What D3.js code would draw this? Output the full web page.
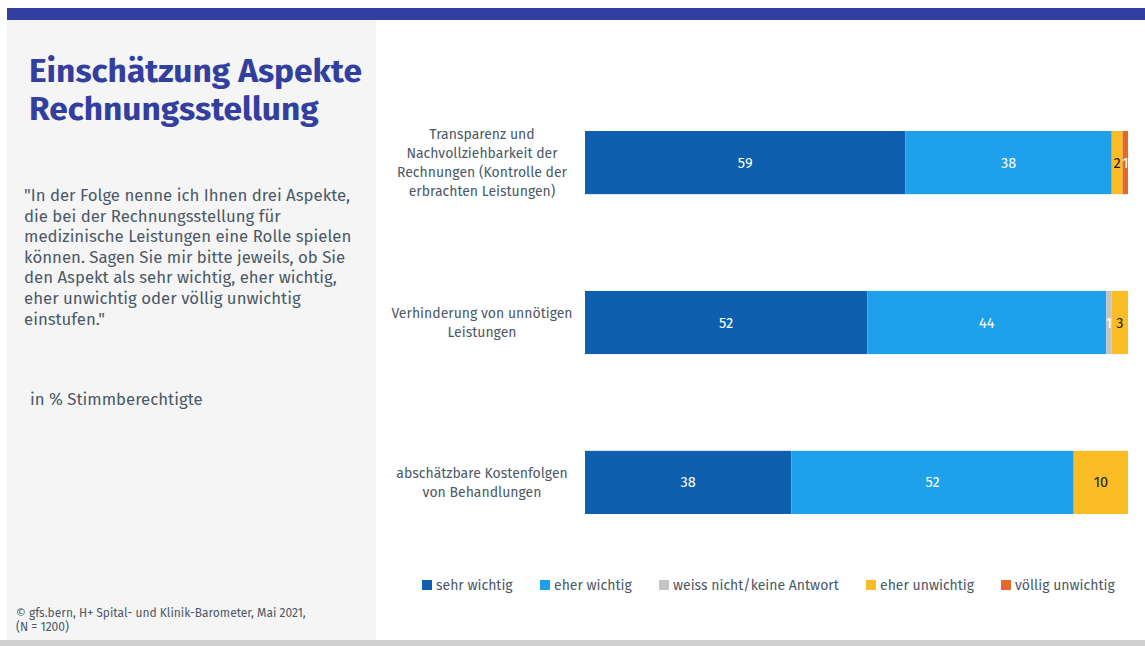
<!DOCTYPE html>
<html>
<head>
<meta charset="utf-8">
<script src="https://cdn.jsdelivr.net/npm/d3@7"></script>
<style>
  html, body { margin: 0; padding: 0; background: #ffffff; }
  svg { display: block; }
  text { font-family: "Fira Sans", "Noto Sans", "Open Sans", sans-serif; }
</style>
</head>
<body>
<svg id="chart" width="1145" height="646"></svg>
<script>
// Survey items (categories), each label split into lines
const categories = [
  ["Transparenz und", "Nachvollziehbarkeit der", "Rechnungen (Kontrolle der", "erbrachten Leistungen)"],
  ["Verhinderung von unnötigen", "Leistungen"],
  ["abschätzbare Kostenfolgen", "von Behandlungen"]
];

// Answer series, in stacking order
const seriesNames = ["sehr wichtig", "eher wichtig", "weiss nicht/keine Antwort", "eher unwichtig", "völlig unwichtig"];
const seriesColors = ["#0e5fae", "#1fa0ea", "#c4c4c4", "#fbbd26", "#e7672b"];
const labelColors = ["#ffffff", "#ffffff", "#ffffff", "#1a1a1a", "#ffffff"];

// Percent values per series (one entry per category)
const sehrWichtig = [59, 52, 38];
const eherWichtig = [38, 44, 52];
const weissNicht = [0, 1, 0];
const eherUnwichtig = [2, 3, 10];
const voelligUnwichtig = [1, 0, 0];

const values = [sehrWichtig, eherWichtig, weissNicht, eherUnwichtig, voelligUnwichtig];

const titleLines = ["Einschätzung Aspekte", "Rechnungsstellung"];
const questionLines = [
  "\"In der Folge nenne ich Ihnen drei Aspekte,",
  "die bei der Rechnungsstellung für",
  "medizinische Leistungen eine Rolle spielen",
  "können. Sagen Sie mir bitte jeweils, ob Sie",
  "den Aspekt als sehr wichtig, eher wichtig,",
  "eher unwichtig oder völlig unwichtig",
  "einstufen.\""
];
const unitNote = "in % Stimmberechtigte";
const sourceLines = ["© gfs.bern, H+ Spital- und Klinik-Barometer, Mai 2021,", "(N = 1200)"];

const svg = d3.select("#chart");
const textColor = "#4b5866";

// Page frame: top band, left panel, bottom strip
svg.append("rect").attr("x", 7).attr("y", 8).attr("width", 1138).attr("height", 12).attr("fill", "#323f9e");
svg.append("rect").attr("x", 7).attr("y", 20).attr("width", 369).attr("height", 620).attr("fill", "#f5f5f5");
svg.append("rect").attr("x", 0).attr("y", 640).attr("width", 1145).attr("height", 6).attr("fill", "#cfcfcf");

// Title
svg.append("g").selectAll("text").data(titleLines).join("text")
  .attr("x", 29).attr("y", (d, i) => 82 + i * 38)
  .attr("fill", "#323f9e").attr("font-size", 33.5).attr("font-weight", 700)
  .text(d => d);

// Question text
svg.append("g").selectAll("text").data(questionLines).join("text")
  .attr("x", 24).attr("y", (d, i) => 201 + i * 20.6)
  .attr("fill", textColor).attr("font-size", 16.8)
  .text(d => d);

svg.append("text").attr("x", 30).attr("y", 405)
  .attr("fill", textColor).attr("font-size", 16.8).text(unitNote);

svg.append("g").selectAll("text").data(sourceLines).join("text")
  .attr("x", 16).attr("y", (d, i) => 617 + i * 13.5)
  .attr("fill", textColor).attr("font-size", 12)
  .text(d => d);

// Scales
const x = d3.scaleLinear().domain([0, 100]).range([585, 1128]);
const y = d3.scaleBand().domain(d3.range(categories.length)).range([131, 514]).paddingInner(0.605).paddingOuter(0);

// Stack the series
const rows = categories.map((c, i) => {
  const r = { idx: i };
  seriesNames.forEach((s, k) => { r[s] = values[k][i]; });
  return r;
});
const stacked = d3.stack().keys(seriesNames)(rows);

const layers = svg.append("g").selectAll("g").data(stacked).join("g")
  .attr("fill", (d, k) => seriesColors[k]);

layers.selectAll("rect").data(d => d.filter(p => p[1] - p[0] > 0)).join("rect")
  .attr("x", p => x(p[0]))
  .attr("y", p => y(p.data.idx))
  .attr("width", p => x(p[1]) - x(p[0]))
  .attr("height", y.bandwidth());

// Value labels
stacked.forEach((layer, k) => {
  svg.append("g").selectAll("text").data(layer.filter(p => p[1] - p[0] > 0)).join("text")
    .attr("x", p => (x(p[0]) + x(p[1])) / 2)
    .attr("y", p => y(p.data.idx) + y.bandwidth() / 2)
    .attr("dy", "0.35em")
    .attr("text-anchor", "middle")
    .attr("font-size", 14.5)
    .attr("fill", labelColors[k])
    .text(p => p[1] - p[0]);
});

// Category labels
const catG = svg.append("g").selectAll("text").data(categories).join("text")
  .attr("text-anchor", "middle")
  .attr("fill", textColor)
  .attr("font-size", 14);
catG.each(function (lines, i) {
  const cy = y(i) + y.bandwidth() / 2;
  const lh = 18.7;
  const top = cy - (lines.length - 1) * lh / 2;
  d3.select(this).selectAll("tspan").data(lines).join("tspan")
    .attr("x", 482)
    .attr("y", (d, j) => top + j * lh)
    .attr("dy", "0.35em")
    .text(d => d);
});

// Legend
const legendX = [422, 540, 659, 866, 1001];
const legend = svg.append("g").selectAll("g").data(seriesNames).join("g")
  .attr("transform", (d, k) => `translate(${legendX[k]},585)`);
legend.append("rect").attr("x", 0).attr("y", -5).attr("width", 10).attr("height", 10)
  .attr("fill", (d, k) => seriesColors[k]);
legend.append("text").attr("x", 14).attr("dy", "0.35em")
  .attr("fill", textColor).attr("font-size", 14)
  .text(d => d);
</script>
</body>
</html>
